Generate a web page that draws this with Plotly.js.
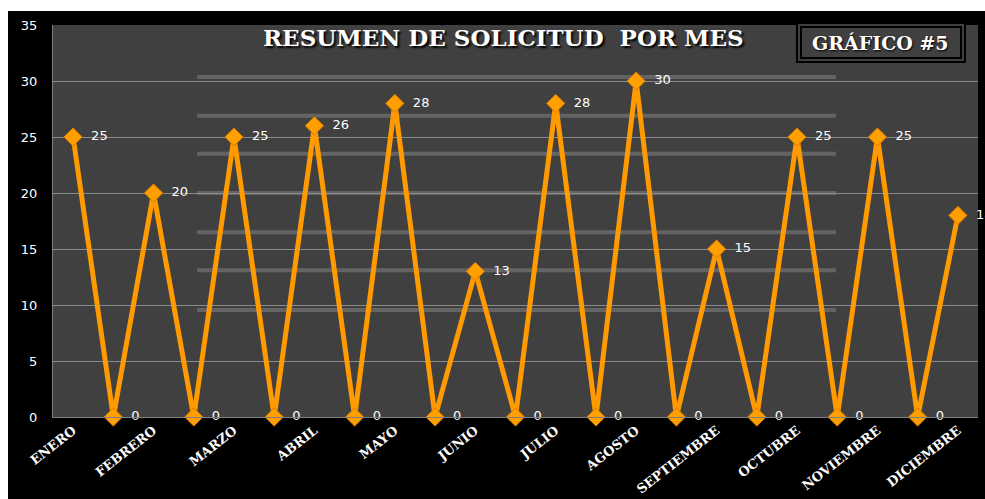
<!DOCTYPE html>
<html>
<head>
<meta charset="utf-8">
<script src="https://cdn.plot.ly/plotly-3.0.1.min.js"></script>
<style>
html,body{margin:0;padding:0;background:#ffffff;width:985px;height:499px;overflow:hidden;}
#chart{position:absolute;left:8px;top:11px;width:977px;height:488px;}
</style>
</head>
<body>
<div id="chart"></div>
<script>
// Month tick labels (placed on every other point)
const months = ["ENERO","FEBRERO","MARZO","ABRIL","MAYO","JUNIO","JULIO","AGOSTO","SEPTIEMBRE","OCTUBRE","NOVIEMBRE","DICIEMBRE"];
// Series values (23 points, alternating with zeros)
const values = [25,0,20,0,25,0,26,0,28,0,13,0,28,0,30,0,15,0,25,0,25,0,18];
const yTicks = [0,5,10,15,20,25,30,35];
const titleText = "RESUMEN DE SOLICITUD  POR MES";
const badgeText = "GRÁFICO #5";

const xIdx = values.map((v,i)=>i);
const tickPos = months.map((m,i)=>2*i);

const trace = {
  x: xIdx,
  y: values,
  type: 'scatter',
  mode: 'lines+markers+text',
  line: {color:'#FF9A00', width:5},
  marker: {symbol:'diamond', size:14, color:'#FFA000', line:{color:'#D97A00', width:1}},
  text: values.map(v=>String(v)),
  texttemplate: '  %{text}',
  textposition: 'middle right',
  textfont: {family:'DejaVu Sans', size:13, color:'#ffffff'},
  cliponaxis: false,
  hoverinfo: 'none'
};

// decorative background bands (y in data units)
const bandYs = [30.36, 26.9, 23.5, 20, 16.5, 13.1, 9.55];
const shapes = bandYs.map(y=>({
  type:'line', xref:'paper', yref:'y', x0:0.1557, x1:0.8465, y0:y, y1:y,
  line:{color:'rgba(135,135,135,0.5)', width:4}, layer:'below'
}));
shapes.push({type:'rect', xref:'paper', yref:'paper', x0:0.8043, x1:0.9859, y0:0.9056, y1:1.0051,
  line:{color:'#000000', width:2}, fillcolor:'#404040', layer:'above'});
shapes.push({type:'rect', xref:'paper', yref:'paper', x0:0.8086, x1:0.9816, y0:0.9158, y1:0.9949,
  line:{color:'#000000', width:2}, fillcolor:'rgba(0,0,0,0)', layer:'above'});

const layout = {
  width: 977, height: 488,
  margin: {l:45, r:7, t:14, b:82},
  paper_bgcolor: '#000000',
  plot_bgcolor: '#404040',
  showlegend: false,
  xaxis: {
    range: [-0.5, values.length-0.5],
    tickmode: 'array', tickvals: tickPos, ticktext: months,
    tickangle: -38,
    tickfont: {family:'DejaVu Serif', size:13, color:'#ffffff', weight:'bold'},
    showgrid: false, zeroline: false,
    showline: true, linecolor:'#808080', linewidth:1,
    ticks: '', fixedrange: true
  },
  yaxis: {
    range: [0, 35],
    tickmode: 'array', tickvals: yTicks,
    tickfont: {family:'DejaVu Sans', size:13, color:'#ffffff'},
    showgrid: true, gridcolor:'#8a8a8a', gridwidth:1,
    zeroline: false,
    showline: true, linecolor:'#808080', linewidth:1,
    ticks: 'outside', ticklen: 12, tickcolor:'rgba(0,0,0,0)',
    fixedrange: true
  },
  shapes: shapes,
  annotations: [
    {text: titleText, xref:'paper', yref:'paper', x:0.4865, y:0.967, showarrow:false,
     xanchor:'center', yanchor:'middle',
     font:{family:'DejaVu Serif', size:23, color:'#ffffff', weight:'bold', shadow:'2px 2px 2px #000'}},
    {text: badgeText, xref:'paper', yref:'paper', x:0.895, y:0.955, showarrow:false,
     xanchor:'center', yanchor:'middle',
     font:{family:'DejaVu Serif', size:19, color:'#ffffff', weight:'bold', shadow:'1px 1px 2px #000'}}
  ]
};

Plotly.newPlot('chart', [trace], layout, {displayModeBar:false, staticPlot:true});
</script>
</body>
</html>
